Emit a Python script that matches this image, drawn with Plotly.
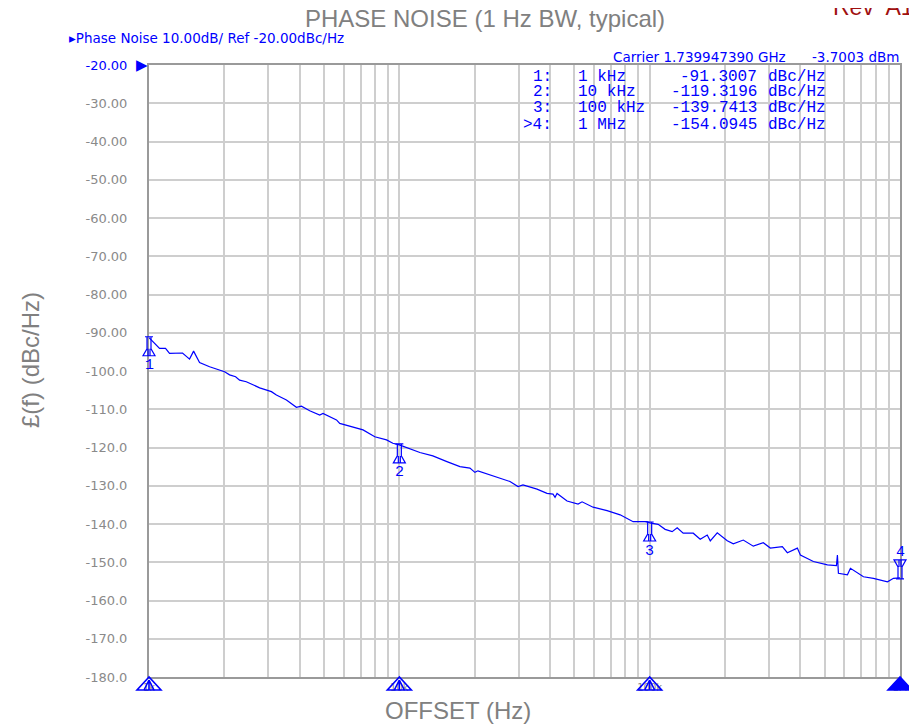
import numpy as np
import plotly.graph_objects as go

# ---------------- data ----------------
freq_hz = [1000, 1102, 1164, 1208, 1361, 1452, 1507, 1592, 1746, 2004, 2099, 2218, 2301, 2447,
           2767, 3083, 3228, 3540, 3880, 4064, 4385, 4808, 4955, 5610, 5780, 6745, 7161, 7980,
           8890, 9419, 10000,
           12080, 13610, 15490, 17460, 19140, 20040, 20610, 24550, 27670, 29790,
           31190, 35480, 38900, 41110, 41880, 42660, 46770, 51760, 53700, 59430,
           67610, 76210, 85900, 97720, 100000,
           108100, 115300, 123000, 128800, 136100, 149300, 159200, 169800, 174600,
           186200, 204200, 215800, 236600, 259400, 284400, 303400, 338800, 354800,
           389000, 400000, 450800, 512900, 557200, 562300, 567500, 616600, 633900,
           714500, 783400, 891300, 941900, 1000000]
noise_dbc = [-91.3, -94.1, -94.1, -95.4, -95.3, -96.9, -94.8, -97.8, -98.9, -100.2, -101.0, -101.5, -102.4, -102.8,
             -104.4, -105.4, -106.3, -107.6, -109.5, -109.2, -110.4, -111.5, -111.1, -112.8, -113.7, -115.0, -115.4, -117.2,
             -118.0, -118.9, -119.3,
             -121.3, -122.2, -123.7, -125.0, -125.4, -126.5, -126.1, -127.8, -128.9, -130.2,
             -129.8, -130.9, -132.0, -132.2, -133.0, -132.0, -134.0, -134.8, -134.2, -135.6,
             -136.5, -137.6, -139.4, -139.4, -139.7,
             -140.1, -141.4, -142.0, -141.0, -142.4, -142.4, -144.0, -142.9, -144.4,
             -142.3, -144.4, -145.2, -144.2, -145.8, -144.9, -146.3, -145.9, -147.5,
             -146.3, -148.1, -149.8, -150.7, -150.9, -148.1, -152.9, -153.3, -151.6,
             -153.8, -154.2, -155.1, -154.2, -154.1]

marker_ids = ["1", "2", "3", "4"]
marker_freq = [1e3, 1e4, 1e5, 1e6]
marker_freq_txt = ["1 kHz", "10 kHz", "100 kHz", "1 MHz"]
marker_val = [-91.3007, -119.3196, -139.7413, -154.0945]

y_ticks = list(range(-20, -181, -10))
y_tick_text = ["-20.00", "-30.00", "-40.00", "-50.00", "-60.00", "-70.00", "-80.00", "-90.00",
               "-100.0", "-110.0", "-120.0", "-130.0", "-140.0", "-150.0", "-160.0", "-170.0", "-180.0"]
x_ticks = [1e3, 1e4, 1e5, 1e6]
x_tick_text = ["1k", "10k", "100k", "1M"]

X_RANGE = [3, 6]           # log10 of 1 kHz .. 1 MHz
Y_RANGE = [-180, -20]

BLUE = "#0000ff"
GRAY_TXT = "#8a8a8a"
GRID = "#cecece"
FRAME = "#9a9a9a"

# page body has an 8 px margin; work in screen pixels and convert
OFF = 8
W, H = 917 - OFF, 726 - OFF
L, T = 141, 57
R = W - 892
B = H - 669
pw, ph = W - L - R, H - T - B


def px(sx):
    return (sx - OFF - L) / pw


def py(sy):
    return (H - B - (sy - OFF)) / ph


def xdom(f):
    return (np.log10(f) - X_RANGE[0]) / (X_RANGE[1] - X_RANGE[0])


def ydom(v):
    return (v - Y_RANGE[0]) / (Y_RANGE[1] - Y_RANGE[0])


fig = go.Figure()
fig.add_trace(go.Scatter(x=freq_hz, y=noise_dbc, mode="lines",
                         line=dict(color=BLUE, width=1.2), showlegend=False, hoverinfo="skip"))

ticktext_y = [f"<span style='color:{BLUE}'>{t}</span>" if i == 0 else t for i, t in enumerate(y_tick_text)]

fig.update_layout(
    width=W, height=H,
    margin=dict(l=L, r=R, t=T, b=B, autoexpand=False),
    paper_bgcolor="white", plot_bgcolor="white",
    font=dict(family="DejaVu Sans", color=GRAY_TXT),
    xaxis=dict(type="log", range=X_RANGE, tickvals=x_ticks, ticktext=x_tick_text,
               showgrid=True, gridcolor=GRID, gridwidth=1.5,
               minor=dict(dtick="D1", showgrid=True, gridcolor=GRID, gridwidth=1.5),
               showline=True, linecolor=FRAME, linewidth=2, mirror=True,
               tickfont=dict(size=10, color=GRAY_TXT), ticks="", zeroline=False,
               ticklabelstandoff=0),
    yaxis=dict(range=Y_RANGE, tickvals=y_ticks, ticktext=ticktext_y,
               showgrid=True, gridcolor=GRID, gridwidth=1.5,
               showline=True, linecolor=FRAME, linewidth=2, mirror=True,
               tickfont=dict(size=13, color=GRAY_TXT), ticks="", zeroline=False,
               ticklabelstandoff=17),
)

ann = []
big = dict(family="Liberation Sans", size=24, color="#808080")
ann.append(dict(xref="paper", yref="paper", x=px(485), y=py(18), text="PHASE NOISE (1 Hz BW, typical)",
                showarrow=False, xanchor="center", yanchor="middle", font=big))
ann.append(dict(xref="paper", yref="paper", x=px(831), y=py(7), text="Rev  A1",
                showarrow=False, xanchor="left", yanchor="middle",
                font=dict(family="Liberation Sans", size=23, color="#a01010")))
ann.append(dict(xref="paper", yref="paper", x=px(458), y=py(710), text="OFFSET (Hz)",
                showarrow=False, xanchor="center", yanchor="middle", font=big))
ann.append(dict(xref="paper", yref="paper", x=px(31), y=py(360), text="£(f) (dBc/Hz)",
                showarrow=False, xanchor="center", yanchor="middle", textangle=-90, font=big))

small_blue = dict(family="DejaVu Sans", size=13.5, color=BLUE)
ann.append(dict(xref="paper", yref="paper", x=px(67), y=py(38),
                text="▸Phase Noise 10.00dB/ Ref -20.00dBc/Hz",
                showarrow=False, xanchor="left", yanchor="middle", font=small_blue))
ann.append(dict(xref="paper", yref="paper", x=px(611), y=py(57),
                text="Carrier 1.739947390 GHz", showarrow=False, xanchor="left", yanchor="middle",
                font=small_blue))
ann.append(dict(xref="paper", yref="paper", x=px(901), y=py(57),
                text="-3.7003 dBm", showarrow=False, xanchor="right", yanchor="middle",
                font=small_blue))
ann.append(dict(xref="paper", yref="y", x=px(149), y=y_ticks[0], text="▶", showarrow=False,
                xanchor="right", yanchor="middle", xshift=1,
                font=dict(family="DejaVu Sans", size=15, color=BLUE)))

# marker table
row_y = [77, 92.5, 108, 124.5]
mono = dict(family="Liberation Mono", size=16, color=BLUE)
for i in range(4):
    idx = (">" if i == 3 else "") + marker_ids[i] + ":"
    ann.append(dict(xref="paper", yref="paper", x=px(554), y=py(row_y[i]), text=idx, showarrow=False,
                    xanchor="right", yanchor="middle", font=mono))
    ann.append(dict(xref="paper", yref="paper", x=px(576), y=py(row_y[i]), text=marker_freq_txt[i],
                    showarrow=False, xanchor="left", yanchor="middle", font=mono))
    ann.append(dict(xref="paper", yref="paper", x=px(759), y=py(row_y[i]), text=f"{marker_val[i]:.4f}",
                    showarrow=False, xanchor="right", yanchor="middle", font=mono))
    ann.append(dict(xref="paper", yref="paper", x=px(766), y=py(row_y[i]), text="dBc/Hz",
                    showarrow=False, xanchor="left", yanchor="middle", font=mono))

shapes = []
pennant_down = "M-4,1 L4,1 M-2,1 L-2,-11 L-6,-18 L6,-18 L2,-11 L2,1 M-1,-11 L-1,-18 M1,-11 L1,-18"
pennant_up = "M-4,-1 L4,-1 M-2,-1 L-2,11 L-6,18 L6,18 L2,11 L2,-1 M-1,11 L-1,18 M1,11 L1,18"
axis_tri = "M0,0 L-12,-13 L12,-13 Z M0,-3 L-5,-13 M0,-3 L5,-13 M0,-3 L0,-13"
axis_tri_fill = "M0,0 L-12,-13 L12,-13 Z"
for i in range(4):
    lx = float(np.log10(marker_freq[i]))
    shapes.append(dict(type="path", xref="x domain", yref="y", xsizemode="pixel", ysizemode="pixel",
                       xanchor=float(xdom(marker_freq[i])), yanchor=marker_val[i],
                       path=pennant_up if i == 3 else pennant_down,
                       line=dict(color=BLUE, width=1.2), fillcolor="rgba(0,0,0,0)", layer="above"))
    if i < 3:
        ann.append(dict(x=lx, y=marker_val[i], text=marker_ids[i], showarrow=False, xanchor="center",
                        yanchor="middle", yshift=-28,
                        font=dict(family="Liberation Mono", size=15, color=BLUE)))
    else:
        ann.append(dict(x=lx, y=marker_val[i], text=marker_ids[i], showarrow=False, xanchor="center",
                        yanchor="middle", yshift=25,
                        font=dict(family="Liberation Mono", size=15, color=BLUE)))
    shapes.append(dict(type="path", xref="x domain", yref="y domain", xsizemode="pixel", ysizemode="pixel",
                       xanchor=float(xdom(marker_freq[i])), yanchor=float(ydom(y_ticks[-1])),
                       path=axis_tri_fill if i == 3 else axis_tri,
                       line=dict(color=BLUE, width=1.6),
                       fillcolor=BLUE if i == 3 else "rgba(0,0,0,0)", layer="above"))

fig.update_layout(annotations=ann, shapes=shapes)
fig.write_html("out.html")
